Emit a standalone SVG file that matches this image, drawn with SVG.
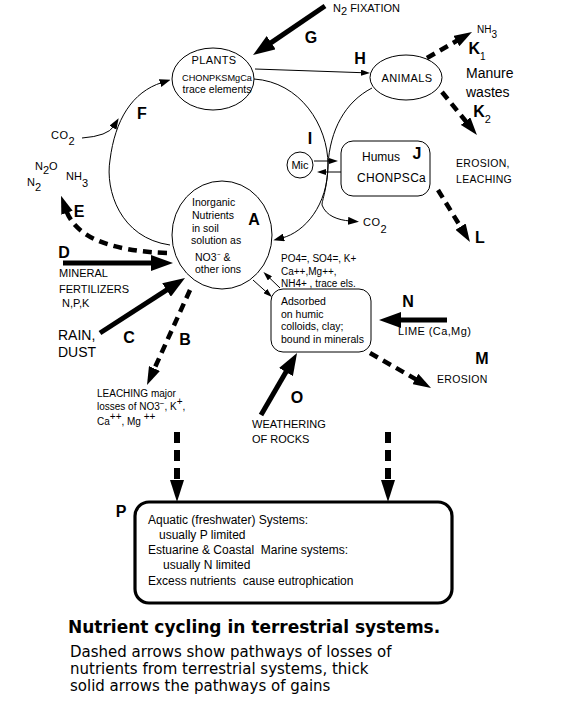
<svg xmlns="http://www.w3.org/2000/svg" width="576" height="720" viewBox="0 0 576 720">
<style>
text{font-family:"Liberation Sans",Arial,sans-serif;fill:#000}
.s10{font-size:10px}
.s105{font-size:10.5px}
.s11{font-size:11px}
.s12{font-size:12px}
.s14{font-size:14px}
.pre{white-space:pre}
.L{font-family:"Liberation Sans",Arial,sans-serif;font-weight:bold;font-size:16px;text-anchor:middle}
.node{fill:#fff;stroke:#000;stroke-width:1}
.thin{fill:none;stroke:#000;stroke-width:1}
.gain{fill:none;stroke:#000;stroke-width:5}
.loss{fill:none;stroke:#000;stroke-width:4.5;stroke-dasharray:9 6}
.lossv{fill:none;stroke:#000;stroke-width:6;stroke-dasharray:11 7}
.title{font-family:"DejaVu Sans",sans-serif;font-weight:bold;font-size:17px}
.sub{font-family:"DejaVu Sans",sans-serif;font-size:15px}
</style>
<defs>
<marker id="mSolid" markerUnits="userSpaceOnUse" markerWidth="22" markerHeight="16" refX="4" refY="8" orient="auto" viewBox="0 0 22 16"><path d="M0,0 L22,8 L0,16 z" fill="#000"/></marker>
<marker id="mDash" markerUnits="userSpaceOnUse" markerWidth="18" markerHeight="12" refX="3" refY="6" orient="auto" viewBox="0 0 18 12"><path d="M0,0 L18,6 L0,12 z" fill="#000"/></marker>
<marker id="mDashV" markerUnits="userSpaceOnUse" markerWidth="22" markerHeight="14" refX="4" refY="7" orient="auto" viewBox="0 0 22 14"><path d="M0,0 L22,7 L0,14 z" fill="#000"/></marker>
<marker id="mThin" markerUnits="userSpaceOnUse" markerWidth="9" markerHeight="6" refX="1" refY="3" orient="auto" viewBox="0 0 9 6"><path d="M0,0 L9,3 L0,6 z" fill="#000"/></marker>
<marker id="mMed" markerUnits="userSpaceOnUse" markerWidth="11" markerHeight="8" refX="2" refY="4" orient="auto" viewBox="0 0 11 8"><path d="M0,0 L11,4 L0,8 z" fill="#000"/></marker>
</defs>
<rect width="576" height="720" fill="#fff"/>

<g id="connectors">
  <path class="thin" d="M170,245 C120,238 105,190 110,160 C115,120 132,92 162,82.5" marker-end="url(#mMed)"/>
  <path class="thin" d="M82,138 Q108,136 114,126" marker-end="url(#mMed)"/>
  <path class="thin" d="M254,79 C300,82 328,125 328,165 C328,205 305,232 282,238" marker-end="url(#mMed)"/>
  <path class="thin" d="M372,88 C345,102 330,130 328,165 C327,190 322,200 322,205"/>
  <path class="thin" d="M322,205 C326,216 338,220 350,221" marker-end="url(#mMed)"/>
  <line class="thin" x1="255" y1="69" x2="362" y2="72.7" marker-end="url(#mThin)"/>
  <line class="thin" x1="314" y1="161" x2="330" y2="161" marker-end="url(#mThin)"/>
  <line class="thin" x1="341" y1="172" x2="325" y2="172" marker-end="url(#mThin)"/>
  <line class="thin" x1="253" y1="280" x2="266" y2="291.7" marker-end="url(#mThin)"/>
  <line class="thin" x1="280" y1="288" x2="269.2" y2="277.6" marker-end="url(#mThin)"/>
  <line class="gain" x1="325" y1="6" x2="267.9" y2="44.9" marker-end="url(#mSolid)"/>
  <line class="gain" x1="63" y1="263" x2="155" y2="263" marker-end="url(#mSolid)"/>
  <line class="gain" x1="100" y1="333" x2="169.9" y2="287.8" marker-end="url(#mSolid)"/>
  <line class="gain" x1="261" y1="415" x2="288" y2="368.6" marker-end="url(#mSolid)"/>
  <line class="gain" x1="447" y1="320" x2="397" y2="320" marker-end="url(#mSolid)"/>
  <line class="loss" x1="427" y1="58" x2="459" y2="39.5" marker-end="url(#mDash)"/>
  <line class="loss" x1="442" y1="92" x2="467.5" y2="123.4" marker-end="url(#mDash)"/>
  <line class="loss" x1="438" y1="190" x2="462.1" y2="229.2" marker-end="url(#mDash)"/>
  <line class="loss" x1="370" y1="353" x2="418" y2="380.5" marker-end="url(#mDash)"/>
  <line class="loss" x1="190" y1="290" x2="153.2" y2="371.3" marker-end="url(#mDash)"/>
  <path class="loss" d="M167,253 Q80,250 66,210" marker-end="url(#mDash)"/>
  <line class="lossv" x1="177" y1="432" x2="177" y2="484" marker-end="url(#mDashV)"/>
  <line class="lossv" x1="388" y1="432" x2="388" y2="484" marker-end="url(#mDashV)"/>
</g>

<g id="plants">
  <ellipse class="node" cx="213" cy="79" rx="41" ry="31"/>
  <text class="s11" x="214" y="64" text-anchor="middle" letter-spacing="0.4">PLANTS</text>
  <text x="217" y="81" text-anchor="middle" font-size="9.2">CHONPKSMgCa</text>
  <text x="217" y="93" text-anchor="middle" font-size="10.5">trace elements</text>
</g>

<g id="animals">
  <ellipse class="node" cx="406" cy="77.5" rx="36" ry="22.5"/>
  <text class="s11" x="407" y="82" text-anchor="middle" letter-spacing="0.4">ANIMALS</text>
</g>

<g id="mic">
  <circle class="node" cx="300" cy="165" r="13"/>
  <text class="s11" x="300" y="169" text-anchor="middle">Mic</text>
</g>

<g id="humus">
  <rect class="node" x="341" y="141" width="89" height="55" rx="12"/>
  <text class="s12" x="362" y="161">Humus</text>
  <text class="s12" x="357" y="182" letter-spacing="0.3">CHONPSCa</text>
</g>

<g id="soil-solution">
  <ellipse class="node" cx="222" cy="235" rx="50" ry="54"/>
  <text class="s105" x="192" y="206">Inorganic</text>
  <text class="s105" x="192" y="219">Nutrients</text>
  <text class="s105" x="192" y="232">in soil</text>
  <text class="s105" x="191" y="244">solution as</text>
  <text class="s105" x="195" y="261">NO3⁻ &amp;</text>
  <text class="s105" x="195" y="273">other ions</text>
</g>

<g id="adsorbed">
  <rect class="node" x="271" y="289" width="100" height="63" rx="12"/>
  <text class="s105" x="281" y="305">Adsorbed</text>
  <text class="s105" x="281" y="318">on humic</text>
  <text class="s105" x="281" y="330">colloids, clay;</text>
  <text class="s105" x="281" y="343">bound in minerals</text>
</g>

<g id="aquatic">
  <rect x="135" y="502" width="317" height="101" rx="14" fill="#fff" stroke="#000" stroke-width="3.2"/>
  <text class="s12" x="148" y="524">Aquatic (freshwater) Systems:</text>
  <text class="s12" x="159" y="539">usually P limited</text>
  <text class="s12 pre" x="148" y="554">Estuarine &amp; Coastal  Marine systems:</text>
  <text class="s12" x="163" y="569">usually N limited</text>
  <text class="s12 pre" x="148" y="585">Excess nutrients  cause eutrophication</text>
</g>

<g id="labels">
  <text class="s11" x="333" y="12">N<tspan dy="3">2</tspan><tspan dy="-3"> FIXATION</tspan></text>
  <text class="s10" x="477" y="33">NH<tspan dy="5">3</tspan></text>
  <text class="s14" x="466" y="78">Manure</text>
  <text class="s14" x="466" y="97">wastes</text>
  <text class="s105" x="456" y="167" letter-spacing="0.3">EROSION,</text>
  <text class="s105" x="456" y="183" letter-spacing="0.3">LEACHING</text>
  <text class="s11" x="51" y="139" letter-spacing="0.5">CO<tspan dy="6">2</tspan></text>
  <text class="s11" x="363" y="226" letter-spacing="0.5">CO<tspan dy="7">2</tspan></text>
  <text class="s11" x="35" y="170">N<tspan dy="4">2</tspan><tspan dy="-4">O</tspan></text>
  <text class="s11" x="27" y="186">N<tspan dy="5">2</tspan></text>
  <text class="s11" x="66" y="180">NH<tspan dy="7">3</tspan></text>
  <text class="s10" x="281" y="262">PO4=, SO4=, K+</text>
  <text class="s10" x="281" y="275">Ca++,Mg++,</text>
  <text class="s10" x="281" y="287">NH4+ , trace els.</text>
  <text class="s11" x="59" y="277">MINERAL</text>
  <text class="s11" x="59" y="293">FERTILIZERS</text>
  <text class="s11" x="62" y="307">N,P,K</text>
  <text class="s14" x="58" y="340">RAIN,</text>
  <text class="s14" x="58" y="357">DUST</text>
  <text class="s10" x="97" y="397">LEACHING major</text>
  <text class="s10" x="97" y="410">losses of NO3<tspan dy="-4" font-size="8">−</tspan><tspan dy="4">, K</tspan><tspan dy="-5" font-size="10">+</tspan><tspan dy="5">,</tspan></text>
  <text class="s10" x="97" y="425">Ca<tspan dy="-5">++</tspan><tspan dy="5">, Mg </tspan><tspan dy="-5">++</tspan></text>
  <text class="s11" x="398" y="335" letter-spacing="0.4">LIME (Ca,Mg)</text>
  <text class="s105" x="437" y="383" letter-spacing="0.3">EROSION</text>
  <text class="s11" x="252" y="428">WEATHERING</text>
  <text class="s11" x="252" y="443">OF ROCKS</text>
  <text class="L" x="311" y="43">G</text>
  <text class="L" x="360" y="64">H</text>
  <text class="L" x="142" y="119">F</text>
  <text class="L" x="79" y="217">E</text>
  <text class="L" x="64" y="258">D</text>
  <text class="L" x="129" y="343">C</text>
  <text class="L" x="185" y="345">B</text>
  <text class="L" x="254" y="225">A</text>
  <text class="L" x="310" y="144">I</text>
  <text class="L" x="417" y="159">J</text>
  <text class="L" x="477" y="54">K<tspan font-size="10" font-weight="normal" dy="6">1</tspan></text>
  <text class="L" x="482" y="117">K<tspan font-size="11" font-weight="normal" dy="6">2</tspan></text>
  <text class="L" x="480" y="243">L</text>
  <text class="L" x="482" y="364">M</text>
  <text class="L" x="408" y="307">N</text>
  <text class="L" x="297" y="403">O</text>
  <text class="L" x="121" y="517">P</text>
  <text class="title" x="68" y="633">Nutrient cycling in terrestrial systems.</text>
  <text class="sub" x="70" y="657">Dashed arrows show pathways of losses of</text>
  <text class="sub" x="70" y="674">nutrients from terrestrial systems, thick</text>
  <text class="sub" x="70" y="691">solid arrows the pathways of gains</text>
</g>
</svg>
